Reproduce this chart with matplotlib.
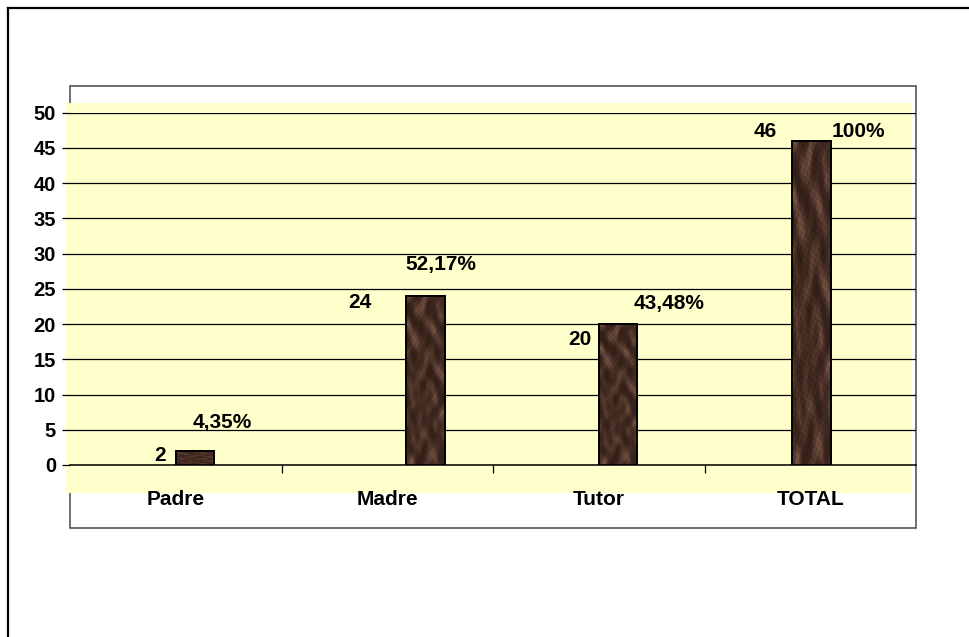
import numpy as np
import matplotlib
matplotlib.use("Agg")
import matplotlib.pyplot as plt
from matplotlib.patches import Rectangle
from matplotlib.lines import Line2D

# ---- data ----
categories = ["Padre", "Madre", "Tutor", "TOTAL"]
counts = [2, 24, 20, 46]
pct_labels = ["4,35%", "52,17%", "43,48%", "100%"]
yticks = [0, 5, 10, 15, 20, 25, 30, 35, 40, 45, 50]

# ---- layout (pixels / data-unit offsets) ----
W, H = 969, 637
bar_left_off = [0.0, 0.09, 0.0, -0.085]
bar_width = 0.182
count_off = [(-10, -5), (-35, -7), (-7, -15), (-15, 9)]
pct_off = [(-22, 28), (-39, 31), (-4, 21), (1, 9)]

FONT = "Liberation Sans"
fig = plt.figure(figsize=(W / 100, H / 100), dpi=100)
fig.patch.set_facecolor("white")

def fx(px):
    return px / W

def fy(py):
    return 1 - py / H

# outer frame (left and top edges only)
fig.add_artist(Line2D([fx(8), fx(8)], [fy(8), 0], transform=fig.transFigure,
                      color="black", lw=1.6, zorder=-3))
fig.add_artist(Line2D([fx(8), 1], [fy(8), fy(8)], transform=fig.transFigure,
                      color="black", lw=1.6, zorder=-3))
# chart box
fig.add_artist(Rectangle((fx(70), fy(528)), fx(916) - fx(70), fy(86) - fy(528),
                         transform=fig.transFigure, facecolor="white",
                         edgecolor="#555555", lw=1.2, zorder=-2))
# yellow plot area
fig.add_artist(Rectangle((fx(66), fy(493)), fx(912) - fx(66), fy(103) - fy(493),
                         transform=fig.transFigure, facecolor="#FFFFCC",
                         edgecolor="none", zorder=-1))

ax = fig.add_axes([fx(70), fy(465), fx(916) - fx(70), fy(112.7) - fy(465)])
ax.set_zorder(2)
ax.set_facecolor("none")
ax.set_xlim(-0.5, len(categories) - 0.5)
ax.set_ylim(0, 50)
for name, s in ax.spines.items():
    s.set_visible(name == "bottom")
ax.spines["bottom"].set_color("black")
ax.spines["bottom"].set_linewidth(1.1)

ax.set_yticks(yticks)
ax.set_yticklabels([str(v) for v in yticks], fontfamily=FONT,
                   fontweight="bold", fontsize=14.5)
ax.yaxis.grid(True, color="black", lw=0.9)
ax.set_axisbelow(True)
ax.tick_params(axis="y", length=6, width=0.9, pad=4, color="black")

ax.set_xticks(range(len(categories)))
ax.set_xticklabels(categories, fontfamily=FONT, fontweight="bold", fontsize=15)
ax.set_xticks([0.5, 1.5, 2.5], minor=True)
ax.tick_params(axis="x", which="major", length=0, pad=18)
ax.tick_params(axis="x", which="minor", length=6, width=0.9, color="black")

# marble-like texture (deterministic)
yy, xx = np.mgrid[0:400, 0:60].astype(float)
t = (np.sin(xx * 0.21 + np.sin(yy * 0.047) * 2.5 + 1.0)
     + np.sin(yy * 0.083 + np.cos(xx * 0.17) * 2.2)
     + 0.7 * np.sin(xx * 0.13 - yy * 0.061 + np.sin(xx * 0.4 + yy * 0.05))
     + 0.35 * np.sin(xx * 0.9 + yy * 0.37)
     + 0.3 * np.cos(xx * 0.57 - yy * 0.71))
t = (t - t.min()) / (t.max() - t.min())
dark = np.array([50, 30, 22]) / 255
light = np.array([128, 92, 76]) / 255
tex = dark[None, None, :] + (light - dark)[None, None, :] * (t[..., None] ** 2.2)

bars = ax.bar([i + o for i, o in enumerate(bar_left_off)], counts, width=bar_width,
              align="edge", color="#5a3a2a", edgecolor="black", lw=1.3, zorder=3)
for b in bars:
    x0, w, h = b.get_x(), b.get_width(), b.get_height()
    im = ax.imshow(tex, extent=(x0, x0 + w, 0, h), aspect="auto", zorder=3.5,
                   interpolation="bilinear")
    im.set_clip_path(b)
    edge = Rectangle((x0, 0), w, h, fill=False, edgecolor="black", lw=1.3,
                     zorder=4)
    ax.add_patch(edge)

ax.set_xlim(-0.5, len(categories) - 0.5)
ax.set_ylim(0, 50)

for i, b in enumerate(bars):
    x0, w, h = b.get_x(), b.get_width(), b.get_height()
    ax.annotate(str(counts[i]), xy=(x0, h), xytext=count_off[i],
                textcoords="offset pixels", ha="right", va="center",
                fontfamily=FONT, fontweight="bold", fontsize=15, zorder=5)
    ax.annotate(pct_labels[i], xy=(x0 + w, h), xytext=pct_off[i],
                textcoords="offset pixels", ha="left", va="center",
                fontfamily=FONT, fontweight="bold", fontsize=15, zorder=5)

fig.savefig("out.png", dpi=100)
